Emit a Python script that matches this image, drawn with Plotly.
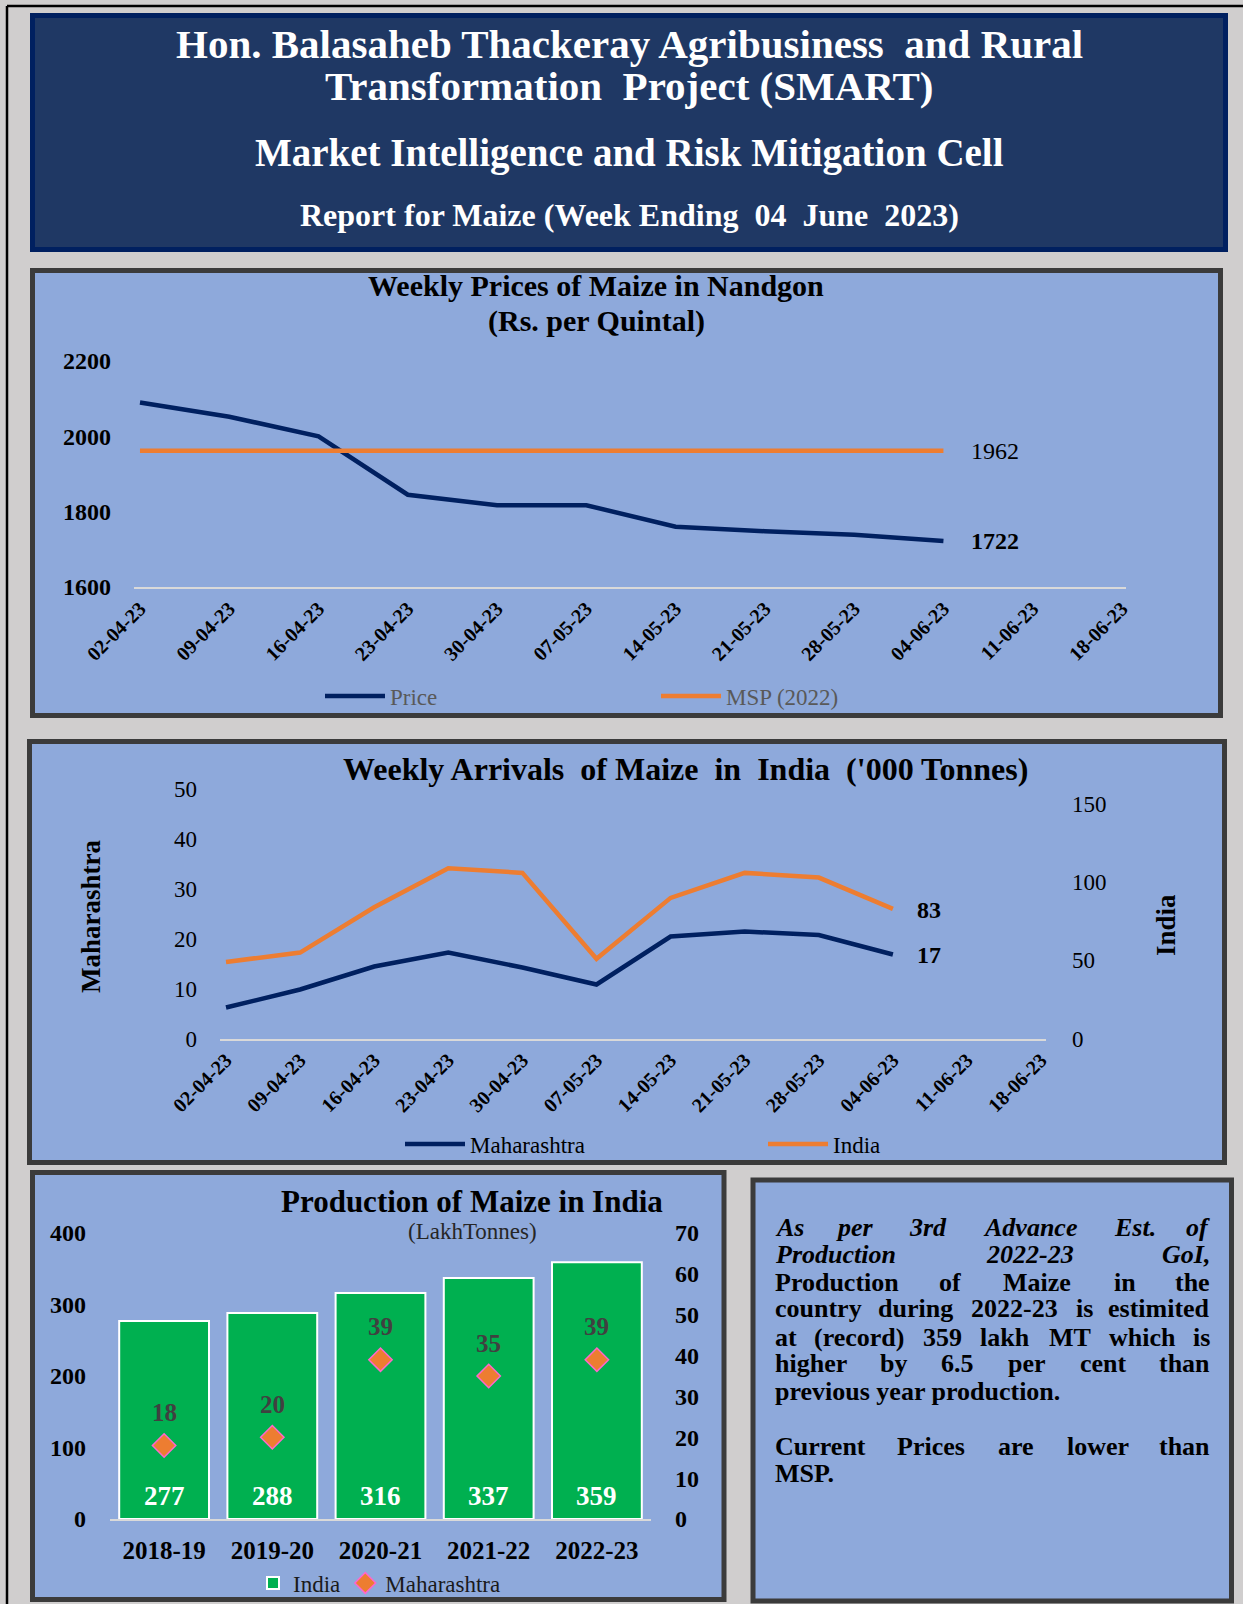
import plotly.graph_objects as go

# ---------------- data ----------------
weeks = ["02-04-23", "09-04-23", "16-04-23", "23-04-23", "30-04-23", "07-05-23",
         "14-05-23", "21-05-23", "28-05-23", "04-06-23", "11-06-23", "18-06-23"]
price_nandgaon = [2090, 2052, 2000, 1845, 1817, 1817, 1760, 1748, 1739, 1722]
msp_2022 = [1962, 1962, 1962, 1962, 1962, 1962, 1962, 1962, 1962, 1962]
arrivals_mh = [6.2, 9.8, 14.4, 17.2, 14.2, 10.8, 20.4, 21.4, 20.7, 16.8]
arrivals_india = [49, 55, 84, 109, 106, 51, 90, 106, 103, 83]
years = ["2018-19", "2019-20", "2020-21", "2021-22", "2022-23"]
prod_india = [277, 288, 316, 337, 359]
prod_mh = [18, 20, 39, 35, 39]
price_ticks = [1600, 1800, 2000, 2200]
mh_ticks = [0, 10, 20, 30, 40, 50]
india_ticks = [0, 50, 100, 150]
prod_ticks_left = [0, 100, 200, 300, 400]
prod_ticks_right = [0, 10, 20, 30, 40, 50, 60, 70]

header_lines = [
    "Hon. Balasaheb Thackeray Agribusiness&nbsp; and Rural",
    "Transformation&nbsp; Project (SMART)",
    "Market Intelligence and Risk Mitigation Cell",
    "Report for Maize (Week Ending&nbsp; 04&nbsp; June&nbsp; 2023)",
]
note_lines = [
    ("As per 3rd Advance Est. of", True, True),
    ("Production 2022-23 GoI,", True, True),
    ("Production of Maize in the", False, True),
    ("country during 2022-23 is estimited", False, True),
    ("at (record) 359 lakh MT which is", False, True),
    ("higher by 6.5 per cent than", False, True),
    ("previous year production.", False, False),
    ("", False, False),
    ("Current Prices are lower than", False, True),
    ("MSP.", False, False),
]

# ---------------- page geometry helpers ----------------
W, H = 1243, 1604
SERIF = "Liberation Serif, Times New Roman, serif"
PANEL = "#8EA9DB"
EDGE = "#3B3B3B"


def X(p):
    return p / W


def Y(p):
    return 1 - p / H


# Times-Bold advance widths (per 1000 em) for justification of the note box
TB = {" ": 250, "(": 333, ")": 333, ",": 250, "-": 333, ".": 250,
      "A": 722, "C": 722, "E": 667, "G": 778, "I": 389, "M": 944, "P": 611,
      "S": 556, "T": 667,
      "a": 500, "b": 556, "c": 444, "d": 556, "e": 444, "f": 333, "g": 500,
      "h": 556, "i": 278, "k": 556, "l": 278, "m": 833, "n": 556, "o": 500,
      "p": 556, "r": 444, "s": 389, "t": 333, "u": 556, "v": 500, "w": 722,
      "y": 500}


def tw(s, size):
    return sum(TB.get(c, 500) for c in s) * size / 1000.0


fig = go.Figure()

# ---------------- chart 1 : weekly prices ----------------
fig.add_trace(go.Scatter(x=list(range(len(price_nandgaon))), y=price_nandgaon, mode="lines",
                         name="Price", line=dict(color="#002060", width=4.5),
                         xaxis="x", yaxis="y", legend="legend"))
fig.add_trace(go.Scatter(x=list(range(len(msp_2022))), y=msp_2022, mode="lines",
                         name="MSP (2022)", line=dict(color="#ED7D31", width=4.5),
                         xaxis="x", yaxis="y", legend="legend"))

# ---------------- chart 2 : weekly arrivals ----------------
fig.add_trace(go.Scatter(x=list(range(len(arrivals_mh))), y=arrivals_mh, mode="lines",
                         name="Maharashtra", line=dict(color="#002060", width=4.5),
                         xaxis="x2", yaxis="y2", legend="legend2"))
fig.add_trace(go.Scatter(x=list(range(len(arrivals_india))), y=arrivals_india, mode="lines",
                         name="India", line=dict(color="#ED7D31", width=4.5),
                         xaxis="x2", yaxis="y3", legend="legend2"))

# ---------------- chart 3 : production ----------------
fig.add_trace(go.Bar(x=years, y=prod_india, name="India", width=0.83,
                     marker=dict(color="#00B050", line=dict(color="white", width=2)),
                     xaxis="x3", yaxis="y4", legend="legend3"))
fig.add_trace(go.Scatter(x=years, y=prod_mh, mode="markers", name="Maharashtra",
                         marker=dict(symbol="diamond", size=18, color="#ED7D31",
                                     line=dict(color="#FF66CC", width=1.5)),
                         xaxis="x3", yaxis="y5", legend="legend3"))

# ---------------- shapes (page, header, panels) ----------------
shapes = [
    dict(type="line", xref="paper", yref="paper", x0=X(7), x1=X(1243), y0=Y(6), y1=Y(6),
         line=dict(color="black", width=2.5), layer="below"),
    dict(type="line", xref="paper", yref="paper", x0=X(7), x1=X(7), y0=Y(6), y1=Y(1604),
         line=dict(color="black", width=2.5), layer="below"),
    dict(type="rect", xref="paper", yref="paper", x0=X(32.5), x1=X(1225.5), y0=Y(15.5), y1=Y(249.5),
         fillcolor="#1F3864", line=dict(color="#002060", width=5), layer="below"),
]
for (x0, y0, x1, y1) in [(32.5, 270.5, 1220.5, 715.5), (29.5, 741.5, 1224.5, 1162.5),
                         (32.5, 1172.5, 724, 1599.5), (753, 1180, 1231.5, 1601)]:
    shapes.append(dict(type="rect", xref="paper", yref="paper", x0=X(x0), x1=X(x1),
                       y0=Y(y0), y1=Y(y1), fillcolor=PANEL,
                       line=dict(color=EDGE, width=5), layer="below"))

# ---------------- annotations ----------------
ann = []


def A(text, x, y, size, color="black", bold=True, angle=0, xanchor="center", **kw):
    t = "<b>%s</b>" % text if bold else text
    d = dict(text=t, x=X(x), y=Y(y), xref="paper", yref="paper", showarrow=False,
             xanchor=xanchor, yanchor="middle", textangle=angle,
             font=dict(family=SERIF, size=size, color=color))
    d.update(kw)
    ann.append(d)


# header
A(header_lines[0], 629, 44, 41, "white")
A(header_lines[1], 629, 86, 41, "white")
A(header_lines[2], 629, 153, 39, "white")
A(header_lines[3], 629, 215, 32, "white")

# chart titles
A("Weekly Prices of Maize in Nandgon", 596, 286, 30)
A("(Rs. per Quintal)", 596, 321, 30)
A("Weekly Arrivals&nbsp; of Maize&nbsp; in&nbsp; India&nbsp; ('000 Tonnes)", 685, 769, 32)
A("Production of Maize in India", 472, 1201, 31)
A("(LakhTonnes)", 472, 1231, 23, color="#262626", bold=False)
A("Maharashtra", 91, 917, 27, angle=-90)
A("India", 1166, 925, 27, angle=-90)

# data labels (placed through the axes' own scales)
last = len(price_nandgaon) - 1
ann.append(dict(text="%d" % msp_2022[last], x=last, y=msp_2022[last], xref="x", yref="y",
                showarrow=False, xshift=52, font=dict(family=SERIF, size=24, color="black")))
ann.append(dict(text="<b>%d</b>" % price_nandgaon[last], x=last, y=price_nandgaon[last],
                xref="x", yref="y", showarrow=False, xshift=52,
                font=dict(family=SERIF, size=24, color="black")))
la = len(arrivals_india) - 1
ann.append(dict(text="<b>%d</b>" % round(arrivals_india[la]), x=la, y=arrivals_india[la],
                xref="x2", yref="y3", showarrow=False, xshift=36, yshift=-1,
                font=dict(family=SERIF, size=24, color="black")))
ann.append(dict(text="<b>%d</b>" % round(arrivals_mh[la]), x=la, y=arrivals_mh[la],
                xref="x2", yref="y2", showarrow=False, xshift=36, yshift=-1,
                font=dict(family=SERIF, size=24, color="black")))
for yr, v in zip(years, prod_india):
    ann.append(dict(text="<b>%d</b>" % v, x=yr, y=0, xref="x3", yref="y4", showarrow=False,
                    yshift=23, yanchor="middle",
                    font=dict(family=SERIF, size=27, color="white")))
for yr, v in zip(years, prod_mh):
    ann.append(dict(text="<b>%d</b>" % v, x=yr, y=v, xref="x3", yref="y5", showarrow=False,
                    yshift=33, yanchor="middle",
                    font=dict(family=SERIF, size=25, color="#404040")))

# justified note box
NX0, NX1, NSIZE = 773, 1212, 26
note_y = [1227, 1254.5, 1282, 1308.5, 1337, 1363.5, 1391, 1418, 1446, 1473.5]
for (line, ital, just), yy in zip(note_lines, note_y):
    if not line:
        continue
    words = line.split()
    fmt = (lambda s: "<i><b>%s</b></i>" % s) if ital else (lambda s: "<b>%s</b>" % s)
    if not just or len(words) == 1:
        ann.append(dict(text=fmt(line), x=X(NX0), y=Y(yy), xref="paper", yref="paper",
                        showarrow=False, xanchor="left", yanchor="middle",
                        font=dict(family=SERIF, size=NSIZE, color="black")))
        continue
    widths = [tw(w, NSIZE) for w in words]
    gap = (NX1 - NX0 - sum(widths)) / (len(words) - 1)
    cx = NX0
    for i, (w, wd) in enumerate(zip(words, widths)):
        if i == 0:
            xa, xx = "left", cx
        elif i == len(words) - 1:
            xa, xx = "right", NX1
        else:
            xa, xx = "center", cx + wd / 2
        ann.append(dict(text=fmt(w), x=X(xx), y=Y(yy), xref="paper", yref="paper",
                        showarrow=False, xanchor=xa, yanchor="middle",
                        font=dict(family=SERIF, size=NSIZE, color="black")))
        cx += wd + gap

# ---------------- axes ----------------
tick_b20 = dict(family=SERIF, size=20, color="black", weight="bold")
common_x = dict(showgrid=False, zeroline=False, ticks="", showline=True, automargin=False,
                linecolor="#D9D9D9", linewidth=2, fixedrange=True)
common_y = dict(showgrid=False, zeroline=False, ticks="", showline=False, automargin=False,
                fixedrange=True)

fig.update_layout(
    width=W, height=H, margin=dict(l=0, r=0, t=0, b=0, pad=0, autoexpand=False),
    paper_bgcolor="#D0CECE", plot_bgcolor="rgba(0,0,0,0)",
    shapes=shapes, annotations=ann,
    xaxis=dict(domain=[X(134), X(1126)], range=[-0.067, 11.045], anchor="y",
               tickvals=list(range(len(weeks))), ticktext=weeks, tickangle=-45,
               tickfont=tick_b20, **common_x),
    yaxis=dict(domain=[Y(587), Y(361)], range=[1600, 2200], anchor="x",
               tickvals=price_ticks, ticklabelstandoff=22,
               tickfont=dict(family=SERIF, size=24, color="black", weight="bold"), **common_y),
    xaxis2=dict(domain=[X(220), X(1046)], range=[-0.081, 11.066], anchor="y2",
                tickvals=list(range(len(weeks))), ticktext=weeks, tickangle=-45,
                tickfont=tick_b20, **common_x),
    yaxis2=dict(domain=[Y(1038.5), Y(788.5)], range=[0, 50], anchor="x2",
                tickvals=mh_ticks, ticklabelstandoff=22,
                tickfont=dict(family=SERIF, size=23, color="black"), **common_y),
    yaxis3=dict(overlaying="y2", side="right", range=[0, 160], anchor="x2",
                tickvals=india_ticks, ticklabelstandoff=25,
                tickfont=dict(family=SERIF, size=23, color="black"), **common_y),
    xaxis3=dict(domain=[X(110), X(651)], range=[-0.5, 4.5], anchor="y4", type="category",
                tickfont=dict(family=SERIF, size=25, color="black", weight="bold"),
                ticklabelstandoff=8, **common_x),
    yaxis4=dict(domain=[Y(1519), Y(1233)], range=[0, 400], anchor="x3",
                tickvals=prod_ticks_left, ticklabelstandoff=23,
                tickfont=dict(family=SERIF, size=24, color="black", weight="bold"), **common_y),
    yaxis5=dict(overlaying="y4", side="right", range=[0, 70], anchor="x3",
                tickvals=prod_ticks_right, ticklabelstandoff=23,
                tickfont=dict(family=SERIF, size=24, color="black", weight="bold"), **common_y),
    legend=dict(orientation="h", x=X(320), y=Y(696), xanchor="left", yanchor="middle",
                bgcolor="rgba(0,0,0,0)", itemwidth=60, entrywidth=261,
                font=dict(family=SERIF, size=23, color="#595959")),
    legend2=dict(orientation="h", x=X(400), y=Y(1144), xanchor="left", yanchor="middle",
                 bgcolor="rgba(0,0,0,0)", itemwidth=60, entrywidth=288,
                 font=dict(family=SERIF, size=23, color="black")),
    legend3=dict(orientation="h", x=X(253), y=Y(1583), xanchor="left", yanchor="middle",
                 bgcolor="rgba(0,0,0,0)",
                 font=dict(family=SERIF, size=23, color="#1a1a1a")),
    showlegend=True,
)

fig.write_html("out.html", config={"displayModeBar": False},
               post_script="document.body.style.margin='0px';document.body.style.overflow='hidden';")
